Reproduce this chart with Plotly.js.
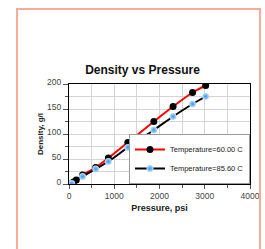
<!DOCTYPE html>
<html>
<head>
<meta charset="utf-8">
<script src="https://cdn.plot.ly/plotly-3.0.1.min.js"></script>
<style>
html,body{margin:0;padding:0;background:#fff;overflow:hidden;}
#frame{position:absolute;left:16px;top:8px;width:245px;height:260px;border:2px solid #f6ad95;box-sizing:border-box;pointer-events:none;z-index:5;}
#chart{position:absolute;left:0;top:0;width:265px;height:249px;}
</style>
</head>
<body>
<div id="chart"></div>
<div id="frame"></div>
<script>
const seriesNames = ["Temperature=60.00 C", "Temperature=85.60 C"];
const pressure60 = [0, 100, 160, 300, 590, 870, 1300, 1875, 2300, 2730, 3020];
const density60 = [0, 4, 8, 18, 33, 52, 83, 125, 155, 183, 197];
const pressure85 = [0, 60, 300, 590, 870, 1300, 1875, 2300, 2730, 3020];
const density85 = [0, 1, 15, 30, 45, 73, 108, 135, 160, 175];

const traces = [
  {
    x: pressure60, y: density60, name: seriesNames[0], type: "scatter", mode: "lines+markers",
    line: {color: "#ff0000", width: 2, shape: "spline", smoothing: 0.6},
    marker: {color: "#000000", size: 7, line: {width: 0}}
  },
  {
    x: pressure85, y: density85, name: seriesNames[1], type: "scatter", mode: "lines+markers",
    line: {color: "#000000", width: 2, shape: "spline", smoothing: 0.6},
    marker: {color: "#bfe2ff", size: 7, gradient: {type: "radial", color: "#3d92e6"}, line: {width: 0}}
  }
];

const layout = {
  width: 265, height: 249,
  margin: {l: 69, r: 15, t: 84, b: 65},
  paper_bgcolor: "#ffffff", plot_bgcolor: "#ffffff",
  font: {family: "Liberation Sans, Arial, sans-serif", color: "#333333", size: 9},
  title: {text: "<b>Density vs Pressure</b>", font: {size: 12, color: "#111111"},
          xref: "container", yref: "container", x: 0.538, xanchor: "center", y: 0.718, yanchor: "middle"},
  showlegend: true,
  legend: {x: 1, xanchor: "right", y: 0, yanchor: "bottom", bgcolor: "#ffffff", bordercolor: "#9a9a9a", borderwidth: 1,
           font: {size: 7.5, color: "#222222"}, itemwidth: 30, tracegroupgap: 0},
  xaxis: {
    range: [0, 4000], dtick: 1000, tick0: 0,
    showgrid: true, gridcolor: "#d4d4d4", gridwidth: 1,
    showline: true, linecolor: "#000000", linewidth: 1, mirror: true,
    ticks: "outside", ticklen: 4, tickcolor: "#555555",
    minor: {dtick: 500, showgrid: true, gridcolor: "#d4d4d4", ticks: "outside", ticklen: 3, tickcolor: "#555555"},
    zeroline: false, tickfont: {size: 8.5, color: "#444444"},
    title: {text: "<b>Pressure, psi</b>", font: {size: 9, color: "#222222"}, standoff: 4}
  },
  yaxis: {
    range: [0, 200], dtick: 50, tick0: 0,
    showgrid: true, gridcolor: "#d4d4d4", gridwidth: 1,
    showline: true, linecolor: "#000000", linewidth: 1, mirror: true,
    ticks: "outside", ticklen: 5, tickcolor: "#555555",
    minor: {dtick: 25, showgrid: true, gridcolor: "#d4d4d4", ticks: "outside", ticklen: 3, tickcolor: "#555555"},
    zeroline: false, tickfont: {size: 8.5, color: "#444444"}, ticklabelshift: -2,
    title: {text: "<b>Density, g/l</b>", font: {size: 8, color: "#222222"}, standoff: 2}
  }
};

Plotly.newPlot("chart", traces, layout, {staticPlot: true, displayModeBar: false});
</script>
</body>
</html>
